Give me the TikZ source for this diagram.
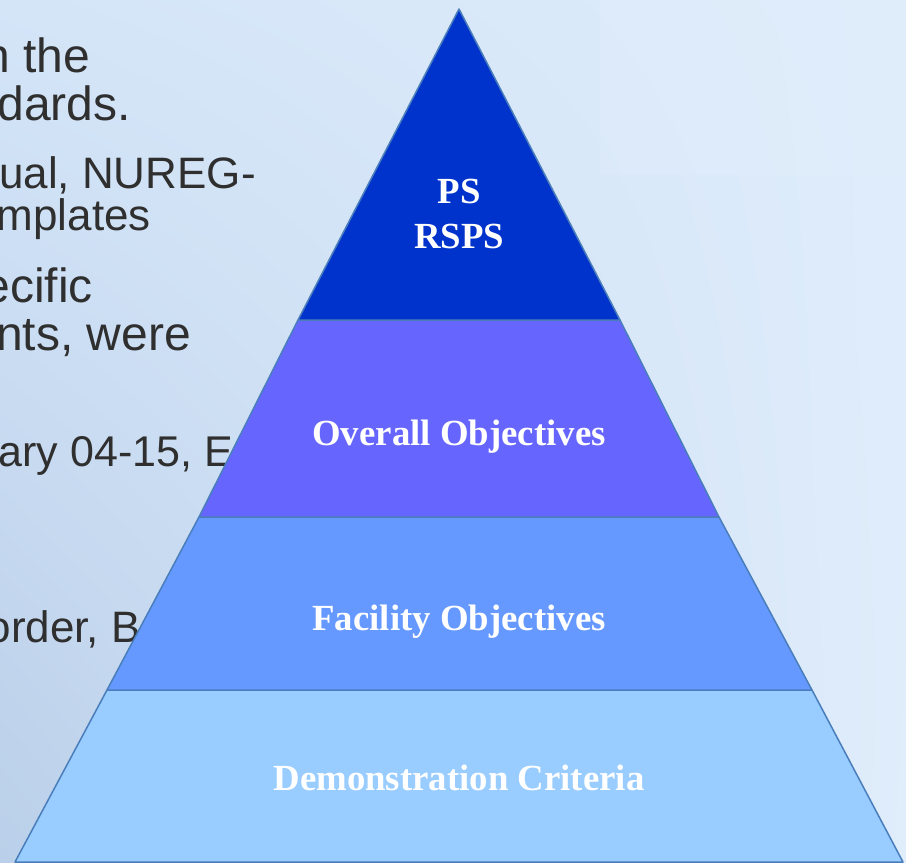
\documentclass[tikz,border=0pt]{standalone}
\usepackage{fontspec}
\setmainfont{Liberation Serif}
\newfontfamily\slidefont{Liberation Sans}
\usetikzlibrary{shadings}
\definecolor{tiertop}{HTML}{0033CC}
\definecolor{tiersecond}{HTML}{6666FF}
\definecolor{tierthird}{HTML}{6699FF}
\definecolor{tierbase}{HTML}{99CCFF}
\definecolor{tieredge}{HTML}{4A7EBB}
\definecolor{slidegray}{HTML}{2F2F2F}
\definecolor{skyUL}{RGB}{212,229,248}
\definecolor{skyUR}{RGB}{222,236,251}
\definecolor{skyLL}{RGB}{186,207,233}
\definecolor{skyLR}{RGB}{224,237,251}
\tikzset{
	tier/.style={fill=#1, draw=tieredge, line width=1.5pt, line join=round},
	tierlabel/.style={text=white, inner sep=0pt, align=center, font=\bfseries\fontsize{36.8}{45}\selectfont},
	slideline/.style={text=slidegray, inner sep=0pt, anchor=base east, font=\slidefont\fontsize{#1}{#1}\selectfont},
}

\begin{document}
\begin{tikzpicture}[x=1pt, y=-1pt]
			\useasboundingbox (0,0) rectangle (906,863);
			\clip (0,0) rectangle (906,863);
			\shade[upper left=skyUL, upper right=skyUR, lower left=skyLL, lower right=skyLR] (0,0) rectangle (906,863);
			\fill[white, opacity=0.06] (600,0) rectangle (906,175);
			\node[slideline=48] (lineA) at (90,72) {n the};
			\node[slideline=48] (lineB) at (131,120) {dards.};
			\node[slideline=44] (lineC) at (256,188) {ual, NUREG-};
			\node[slideline=44] (lineD) at (151,230) {mplates};
			\node[slideline=48] (lineE) at (93,302) {ecific};
			\node[slideline=48] (lineF) at (191,350) {nts, were};
			\node[slideline=43] (lineG) at (233,466) {ary 04-15, E};
			\node[slideline=44] (lineH) at (141,642) {order, B};
			\coordinate (apex) at (459,9);
			\coordinate (l1) at (298,320);
			\coordinate (r1) at (620,320);
			\coordinate (l2) at (199,517);
			\coordinate (r2) at (719,517);
			\coordinate (l3) at (107,690);
			\coordinate (r3) at (812,690);
			\coordinate (l4) at (15,862);
			\coordinate (r4) at (903,862);
			\draw[tier=tierbase] (l3) -- (r3) -- (r4) -- (l4) -- cycle;
			\draw[tier=tierthird] (l2) -- (r2) -- (r3) -- (l3) -- cycle;
			\draw[tier=tiersecond] (l1) -- (r1) -- (r2) -- (l2) -- cycle;
			\draw[tier=tiertop] (apex) -- (r1) -- (l1) -- cycle;
			\node[tierlabel] (peak) at (459,214) {PS\\RSPS};
			\node[tierlabel, anchor=base] (overall) at (459,445) {Overall Objectives};
			\node[tierlabel, anchor=base] (facility) at (459,630) {Facility Objectives};
			\node[tierlabel, anchor=base] (criteria) at (459,790) {Demonstration Criteria};
		\end{tikzpicture}
\end{document}
